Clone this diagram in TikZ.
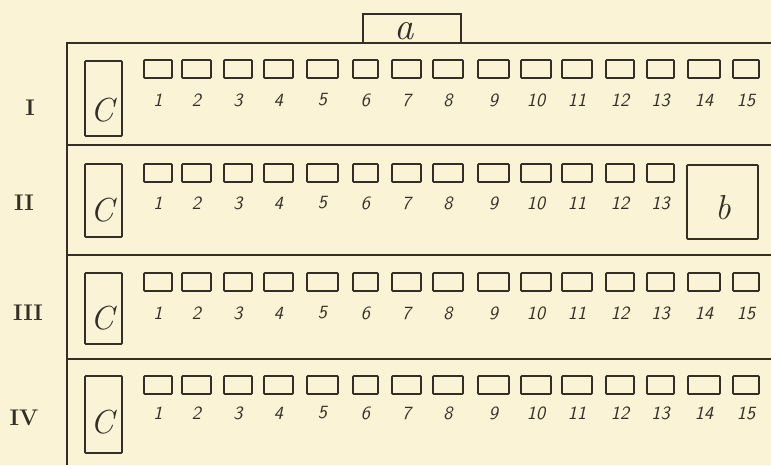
\documentclass[tikz,border=0pt]{standalone}
\usepackage{fontspec}
\definecolor{paper}{RGB}{250,243,214}
\definecolor{ink}{RGB}{52,46,38}
\tikzset{
  frameline/.style={draw=ink,line width=1.8pt},
  cell/.style={draw=ink,line width=1.2pt,rounded corners=0.6pt},
  numlab/.style={text=ink,inner sep=0pt,font=\fontsize{14}{15}\selectfont\sffamily\itshape},
  romlab/.style={text=ink,inner sep=0pt,font=\fontsize{17}{18}\selectfont\bfseries},
  biglab/.style={text=ink,inner sep=0pt,font=\fontsize{26}{27}\selectfont\itshape},
}
\begin{document}
\begin{tikzpicture}[x=0.75pt,y=-0.75pt]
\fill[paper] (0,0) rectangle (771,465);
\useasboundingbox (0,0) rectangle (771,465);
% outer frame and dividers
\draw[frameline] (771,43) -- (67,43) -- (67,465);
\foreach \yy in {145,255,359} \draw[frameline] (67,\yy) -- (771,\yy);
% box a
\draw[frameline,line width=1.5pt] (363,43) |- (461,14) -- (461,43);
\node[biglab,font=\fontsize{29}{30}\selectfont\itshape] (a) at (404,31) {a};
% row labels
\node[romlab] (rI) at (30,108) {I};
\node[romlab] (rII) at (24,203) {II};
\node[romlab] (rIII) at (28,313) {III};
\node[romlab] (rIV) at (24,418) {IV};
% C boxes
\foreach \t/\b/\cy/\r in {61/136/110/1,164/237/210/2,273/344/318/3,376/453/422/4}{
  \draw[cell] (85,\t) rectangle (122,\b);
  \node[biglab,font=\fontsize{25}{26}\selectfont\itshape] (C\r) at (102,\cy) {C};
}
% b box
\draw[cell] (687,165) rectangle (758,239);
\node[biglab] (b) at (723,208) {b};
% small cells
\foreach \t/\ny/\r/\n in {60/100/1/15,164/203/2/13,273/313/3/15,376/413/4/15}{
  \foreach \xl/\xr [count=\i] in {144/172,182/211,224/252,264/293,307/338,353/378,392/421,433/463,478/509,521/551,562/592,606/634,647/674,688/720,733/759}{
    \ifnum\i>\n\else
      \draw[cell] (\xl,\t) rectangle (\xr,\t+18);
      \node[numlab] (n\r-\i) at ({(\xl+\xr)/2},\ny) {\i};
    \fi
  }
}
\end{tikzpicture}
\end{document}
